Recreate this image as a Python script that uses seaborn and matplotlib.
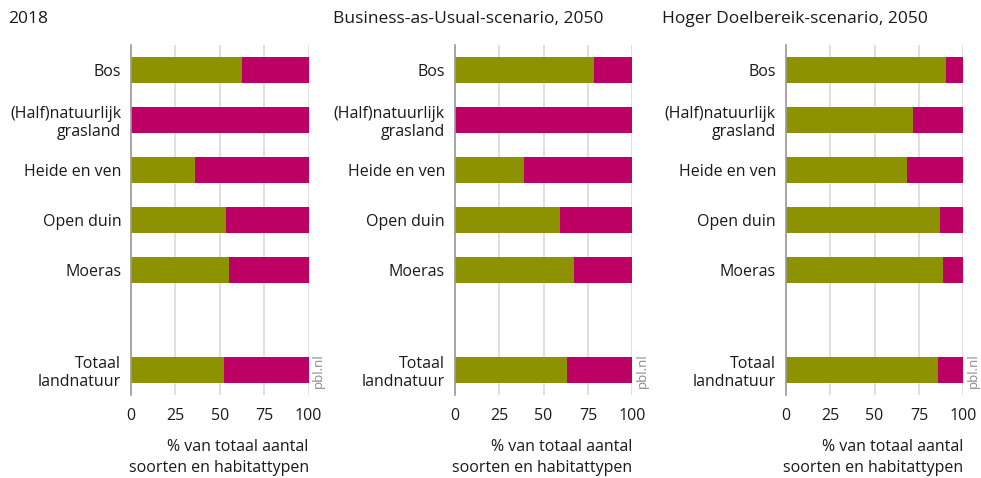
import pandas as pd
import matplotlib.pyplot as plt
import seaborn as sns

sns.set_theme(style="white")
plt.rcParams['font.family'] = ['Open Sans', 'DejaVu Sans']

# Categories (empty string = gap row before the total)
categories = ["Bos", "(Half)natuurlijk\ngrasland", "Heide en ven", "Open duin", "Moeras", "", "Totaal\nlandnatuur"]
data_categories = ["Bos", "(Half)natuurlijk\ngrasland", "Heide en ven", "Open duin", "Moeras", "Totaal\nlandnatuur"]

# Share (%) of the green segment per panel; the rest up to 100 is magenta
green_2018 = [62.5, 0, 36, 53.5, 55, 52.4]
green_bau = [78.4, 0, 39, 59.3, 67, 63.2]
green_hdb = [90.2, 71.6, 68.2, 86.9, 88.6, 85.5]

titles = ["2018", "Business-as-Usual-scenario, 2050", "Hoger Doelbereik-scenario, 2050"]
title_x = [8, 333, 662]
panel_left = [131, 454.7, 785.7]

ticks = [0, 25, 50, 75, 100]
green_color = "#8c9200"
magenta_color = "#bc0064"

W, H = 981, 478
fig = plt.figure(figsize=(W / 100, H / 100), dpi=100)

for title, tx, left, green in zip(titles, title_x, panel_left,
                                  [green_2018, green_bau, green_hdb]):
    ax = fig.add_axes([left / W, 1 - 395 / H, 177.7 / W, 350 / H])
    df = pd.DataFrame({"cat": data_categories, "green": green, "total": [100] * len(green)})

    sns.barplot(data=df, x="total", y="cat", order=categories, orient="h",
                color=magenta_color, width=0.52, saturation=1, linewidth=0, ax=ax)
    sns.barplot(data=df, x="green", y="cat", order=categories, orient="h",
                color=green_color, width=0.52, saturation=1, linewidth=0, ax=ax)

    ax.set_xlim(0, 100)
    ax.set_xticks(ticks)
    ax.set_xticklabels([str(t) for t in ticks])
    ax.xaxis.grid(True, color="#dadada", linewidth=1.2)
    ax.set_axisbelow(True)
    ax.tick_params(axis="both", length=0, labelsize=11.5, colors="#1a1a1a")
    ax.tick_params(axis="x", pad=9)
    ax.tick_params(axis="y", pad=7)
    ax.set_ylabel("")
    ax.set_xlabel("% van totaal aantal\nsoorten en habitattypen", loc="right",
                  fontsize=11.5, color="#1a1a1a", labelpad=11, linespacing=1.45)
    for side in ["top", "right", "bottom"]:
        ax.spines[side].set_visible(False)
    ax.spines["left"].set_color("#9a9a9a")
    ax.spines["left"].set_linewidth(1.2)

    ax.text(1.02, 0.02, "pbl.nl", transform=ax.transAxes, rotation=90,
            ha="left", va="bottom", fontsize=9.5, color="#8a8a8a")

    fig.text(tx / W, 1 - 19 / H, title, ha="left", va="center",
             fontsize=12.5, color="#1a1a1a")

fig.savefig("out.png", dpi=100)
